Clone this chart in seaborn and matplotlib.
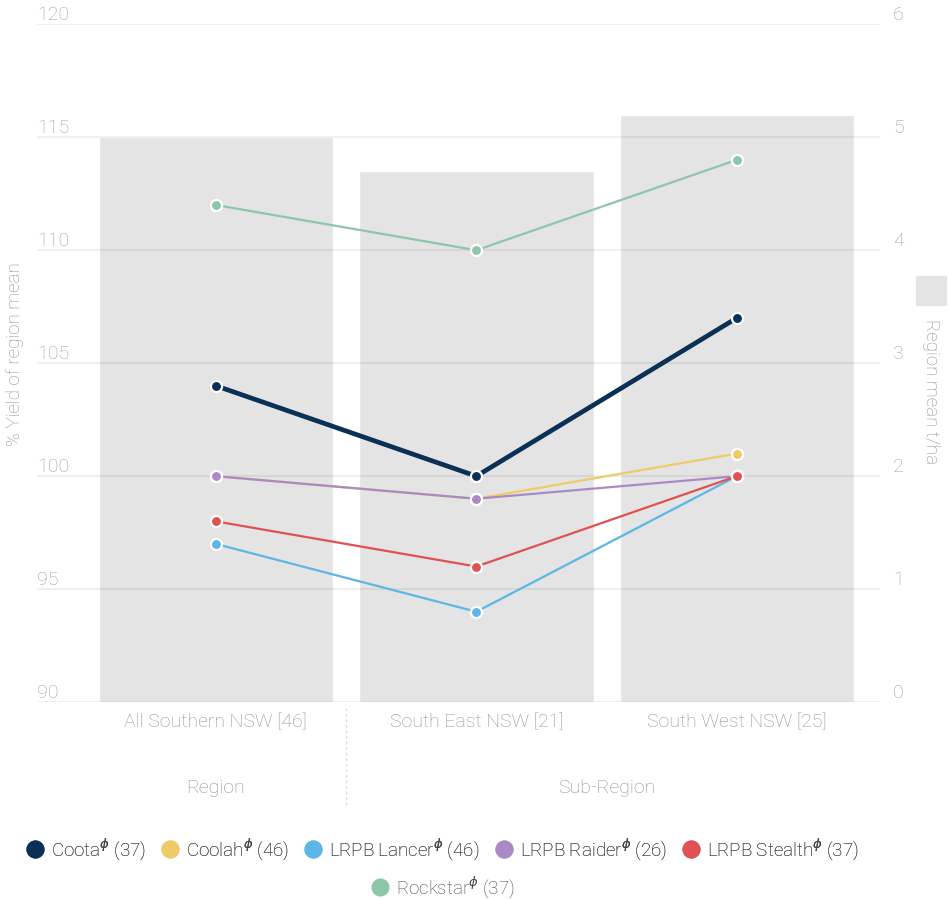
import pandas as pd
import matplotlib.pyplot as plt
from matplotlib.lines import Line2D
from matplotlib.patches import Rectangle
import seaborn as sns

# --- data ---
regions = ["All Southern NSW [46]", "South East NSW [21]", "South West NSW [25]"]
region_mean = [5.0, 4.7, 5.2]  # t/ha, right axis (bars)

varieties = ["Coota", "Coolah", "LRPB Lancer", "LRPB Raider", "LRPB Stealth", "Rockstar"]
counts = [37, 46, 46, 26, 37, 37]
coota = [104, 100, 107]
coolah = [100, 99, 101]
lancer = [97, 94, 100]
raider = [100, 99, 100]
stealth = [98, 96, 100]
rockstar = [112, 110, 114]

colors = {
    "Coota": "#0b3055",
    "Coolah": "#eecb67",
    "LRPB Lancer": "#5db6e6",
    "LRPB Raider": "#a98ac6",
    "LRPB Stealth": "#e05153",
    "Rockstar": "#8dc6a8",
}

series = {
    "Coota": coota, "Coolah": coolah, "LRPB Lancer": lancer,
    "LRPB Raider": raider, "LRPB Stealth": stealth, "Rockstar": rockstar,
}
rows = []
for name, vals in series.items():
    for reg, v in zip(regions, vals):
        rows.append({"variety": name, "region": reg, "pct": v})
df = pd.DataFrame(rows)
bars = pd.DataFrame({"region": regions, "mean": region_mean})

sns.set_theme(style="white")
plt.rcParams["font.family"] = ["Roboto", "DejaVu Sans"]
plt.rcParams["font.weight"] = "light"
plt.rcParams["mathtext.fontset"] = "dejavusans"

fig = plt.figure(figsize=(9.49, 8.99), dpi=100)
ax = fig.add_axes([0.039, 0.219, 0.888, 0.754])
ax2 = ax.twinx()

# bars: region mean on the right axis
sns.barplot(data=bars, x="region", y="mean", color="#e4e4e4", saturation=1,
            width=0.9, ax=ax2)
ax2.set_ylim(0, 6)
ax2.set_yticks(range(0, 7))
ax2.set_ylabel("")
ax2.set_xlabel("")

# lines: % of region mean on the left axis, drawn over the bars
ax.set_zorder(ax2.get_zorder() + 1)
ax.patch.set_visible(False)
draw_order = ["Coolah", "LRPB Raider", "LRPB Lancer", "LRPB Stealth", "Rockstar", "Coota"]
for name in draw_order:
    sub = df[df["variety"] == name]
    sns.lineplot(data=sub, x="region", y="pct", color=colors[name],
                 linewidth=3.4 if name == "Coota" else 1.6,
                 marker="o", markersize=8, markeredgecolor="white",
                 markeredgewidth=1.6, ax=ax, legend=False)

ax.set_ylim(90, 120)
ax.set_yticks(range(90, 121, 5))
ax.set_xlim(-0.687, 2.549)
ax.set_xticks(range(len(regions)))
ax.set_xticklabels(regions)
ax.set_xlabel("")
ax.set_ylabel("")

ax.grid(axis="y", color="black", alpha=0.06, linewidth=1.5)
ax.set_axisbelow(True)
for a in (ax, ax2):
    for s in a.spines.values():
        s.set_visible(False)

ax.tick_params(axis="y", length=0, pad=0, labelsize=14, labelcolor="#a0a0a0")
ax.tick_params(axis="x", length=0, pad=8, labelsize=14, labelcolor="#919191")
ax2.tick_params(axis="y", length=0, pad=9.5, labelsize=14, labelcolor="#a0a0a0")
plt.setp(ax.get_yticklabels(), ha="left", va="bottom")
plt.setp(ax2.get_yticklabels(), va="bottom")

# group labels below the x axis
tr = ax.get_xaxis_transform()
ax.text(0, -0.127, "Region", transform=tr, ha="center", va="center",
        fontsize=14, color="#919191")
ax.text(1.5, -0.127, "Sub-Region", transform=tr, ha="center", va="center",
        fontsize=14, color="#919191")
ax.axvline(0.5, ymin=-0.152, ymax=-0.009, clip_on=False, color="#dddddd",
           linestyle=(0, (2, 2)), linewidth=1)

# axis titles
fig.text(0.016, 0.606, "% Yield of region mean", rotation=90, ha="center",
         va="center", fontsize=13.5, color="#919191")
fig.patches.append(Rectangle((0.965, 0.661), 0.0316, 0.0323, color="#e4e4e4",
                             transform=fig.transFigure, figure=fig))
fig.text(0.981, 0.564, "Region mean t/ha", rotation=270, ha="center",
         va="center", fontsize=13.5, color="#919191")

# legend: five on the first row, Rockstar centred below
def handle(name):
    return Line2D([], [], marker="o", linestyle="", markersize=12,
                  markerfacecolor=colors[name], markeredgecolor=colors[name])

labels = {n: f"{n}$^{{\\phi}}$ ({c})" for n, c in zip(varieties, counts)}
leg_kw = dict(frameon=False, fontsize=13.5, handlelength=1.0, handletextpad=0.35,
              columnspacing=0.8, labelcolor="#444444", borderaxespad=0)
first = varieties[:5]
leg1 = fig.legend([handle(n) for n in first], [labels[n] for n in first],
                  loc="center", bbox_to_anchor=(0.466, 0.0556), ncol=5, **leg_kw)
fig.add_artist(leg1)
fig.legend([handle("Rockstar")], [labels["Rockstar"]], loc="center",
           bbox_to_anchor=(0.466, 0.0133), ncol=1, **leg_kw)

fig.savefig("out.png", dpi=100)
